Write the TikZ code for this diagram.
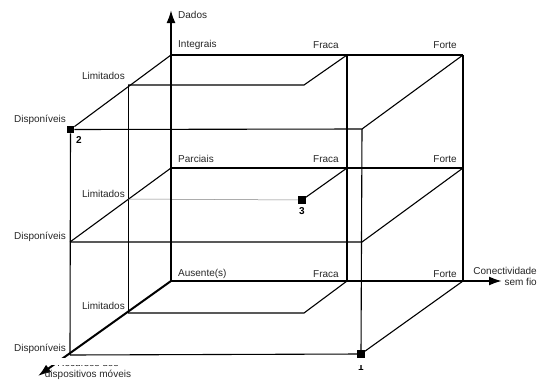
\documentclass[tikz,border=0pt]{standalone}
\usepackage{fontspec}
\setmainfont{Liberation Sans}
\usetikzlibrary{arrows.meta}

\tikzset{
  eixo/.style={line width=2pt},
  aresta/.style={line width=1.1pt},
  fina/.style={line width=0.5pt},
  marca/.style={rectangle, fill=black, minimum size=7.5pt, inner sep=0pt},
  rotulo/.style={font=\fontsize{10}{11}\selectfont, text=black!85, inner sep=0pt},
  numero/.style={font=\fontsize{10}{11}\selectfont\bfseries, inner sep=0pt}
}

\begin{document}
\begin{tikzpicture}[x=1pt,y=-1pt,>={Latex[length=13pt,width=9pt]}]
        \useasboundingbox (0,0) rectangle (538,383);

        % Cantos do plano de fundo
        \coordinate (oI) at (171,55);
        \coordinate (fI) at (347,55);
        \coordinate (tI) at (463,55);
        \coordinate (oP) at (171,168);
        \coordinate (fP) at (347,168);
        \coordinate (tP) at (463,168);
        \coordinate (oA) at (171,281);
        \coordinate (fA) at (347,281);
        \coordinate (tA) at (463,281);

        % Cantos limitados e disponiveis
        \coordinate (lI) at (128,85);
        \coordinate (lfI) at (304,85);
        \coordinate (dI) at (70,129);
        \coordinate (dtI) at (362,129);
        \coordinate (lP) at (128,199);
        \coordinate (dP) at (70,242);
        \coordinate (dtP) at (362,242);
        \coordinate (lA) at (128,313);
        \coordinate (lfA) at (304,313);
        \coordinate (dA) at (70,355);
        \coordinate (dtA) at (362,355);

        % Pontos
        \node[marca] (p2) at (70.5,129.5) {};
        \node[marca] (p3) at (302,200) {};
        \node[marca] (p1) at (361,354) {};

        % Extremos dos eixos
        \coordinate (topo) at (171,10);
        \coordinate (dir) at (502,281);
        \coordinate (frente) at (38,376);

        % Linhas verticais
        \draw[aresta] (p2) -- (dA);
        \draw[fina] (lI) -- (lA);
        \draw[aresta] (fI) -- (fA);
        \draw[aresta] (dtI) -- (p1);
        \draw[aresta] (tI) -- (tA);

        % Nivel Integrais
        \draw[aresta] (oI) -- (tI);
        \draw[aresta] (oI) -- (p2);
        \draw[aresta] (lI) -- (lfI) -- (fI);
        \draw[aresta] (p2) -- (dtI) -- (tI);

        % Nivel Parciais
        \draw[aresta] (oP) -- (tP);
        \draw[aresta] (oP) -- (dP);
        \draw[fina, gray] (lP) -- (p3);
        \draw[aresta] (p3) -- (fP);
        \draw[aresta] (dP) -- (dtP) -- (tP);

        % Nivel Ausente(s)
        \draw[aresta] (lA) -- (lfA) -- (fA);
        \draw[aresta] (dA) -- (p1) -- (tA);

        % Eixos
        \draw[eixo,->] (oA) -- (topo);
        \draw[eixo,->] (oA) -- (dir);
        \draw[eixo,->] (oA) -- (frente);

        % Rotulos
        \node[rotulo, anchor=west] (dados) at (178,15) {Dados};
        \node[rotulo, anchor=west] (integ) at (178,45) {Integrais};
        \node[rotulo, anchor=east] (fracaI) at (339,45) {Fraca};
        \node[rotulo, anchor=east] (forteI) at (457,45) {Forte};
        \node[rotulo, anchor=east] (limI) at (125,76) {Limitados};
        \node[rotulo, anchor=east] (dispI) at (66,120) {Disponíveis};
        \node[rotulo, anchor=west] (parc) at (178,159) {Parciais};
        \node[rotulo, anchor=east] (fracaP) at (339,159) {Fraca};
        \node[rotulo, anchor=east] (forteP) at (457,159) {Forte};
        \node[rotulo, anchor=east] (limP) at (125,194) {Limitados};
        \node[rotulo, anchor=east] (dispP) at (66,237) {Disponíveis};
        \node[rotulo, anchor=west] (aus) at (178,274) {Ausente(s)};
        \node[rotulo, anchor=east] (fracaA) at (339,274) {Fraca};
        \node[rotulo, anchor=east] (forteA) at (457,274) {Forte};
        \node[rotulo, anchor=east] (limA) at (125,306) {Limitados};
        \node[rotulo, anchor=east] (dispA) at (66,349) {Disponíveis};
        \node[rotulo, anchor=east, align=right] (conect) at (537,276) {Conectividade\\sem fio};
        \node[rotulo, align=center] (recursos) at (88,369) {Recursos dos\\dispositivos móveis};
        \node[numero] (n2) at (79,140) {2};
        \node[numero] (n3) at (302,211) {3};
        \node[numero] (n1) at (361,367) {1};

        % Faixa branca sobre a base
        \fill[white] (30,358) rectangle (400,364.5);
\end{tikzpicture}
\end{document}
